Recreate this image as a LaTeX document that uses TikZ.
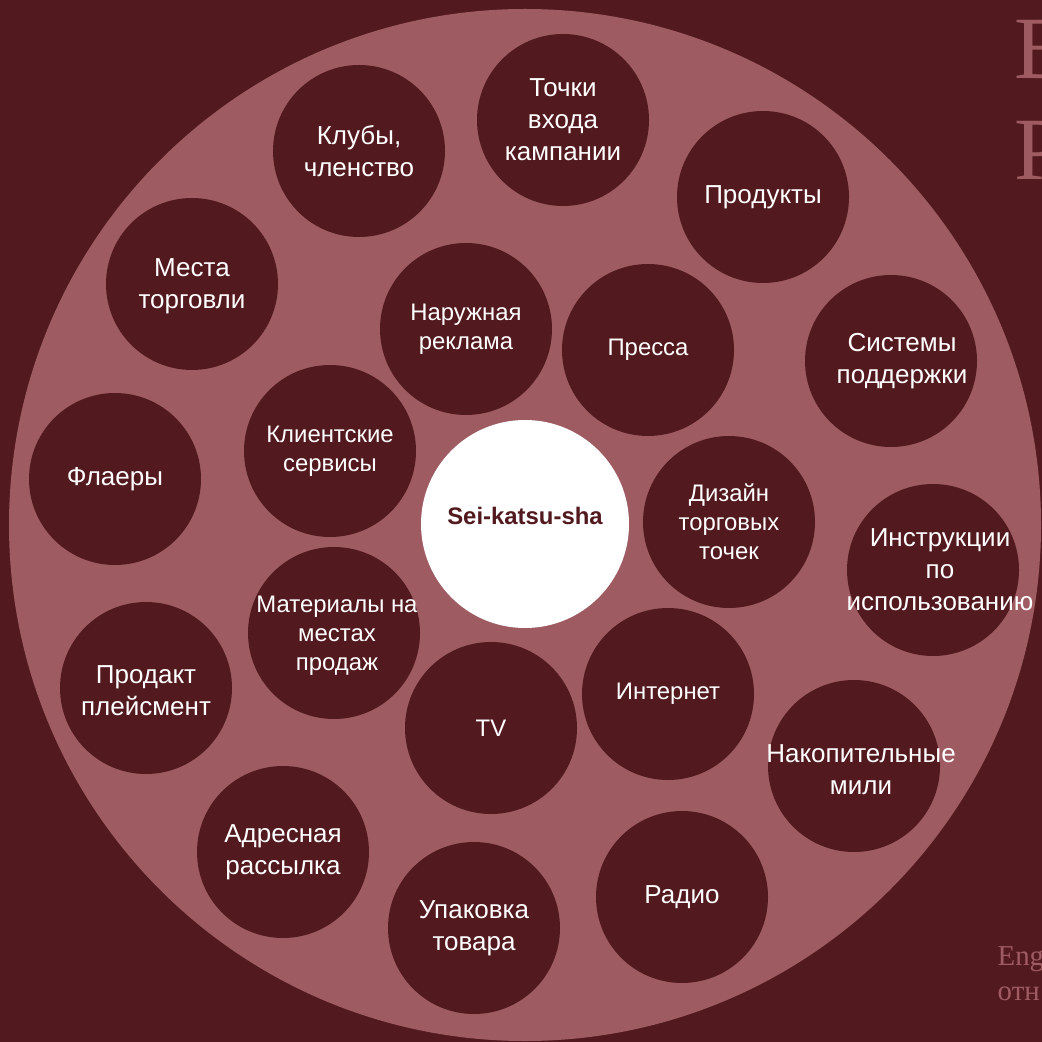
\documentclass[tikz,border=0pt]{standalone}
\usepackage{fontspec}
\setmainfont{Liberation Sans}
\newfontfamily\serifru{Liberation Serif}
\usetikzlibrary{positioning,calc}
\definecolor{skdark}{RGB}{82,26,31}
\definecolor{skrose}{RGB}{158,92,98}
\tikzstyle{bubble} = [circle, fill=skdark, minimum size=17.2mm, inner sep=0pt]
\tikzstyle{bubbletext} = [text=white, align=center, inner sep=0pt, font=\fontsize{7.4}{9.1}\selectfont]
\tikzstyle{smalltext} = [bubbletext, font=\fontsize{6.8}{8.2}\selectfont]
\tikzstyle{fadedtext} = [anchor=base west, inner sep=0pt, align=left, text=skrose]

\begin{document}
\begin{tikzpicture}[x=0.1mm, y=-0.1mm]
\clip (0,0) rectangle (1042,1042);
\fill[skdark] (0,0) rectangle (1042,1042);
\node[circle, fill=skrose, minimum size=103.2mm, inner sep=0pt] (ring) at (525,525) {};

% outer ring
\node[bubble, label={[bubbletext]center:{Клубы,\\членство}}] (clubs) at (359,151) {};
\node[bubble, label={[bubbletext]center:{Точки\\входа\\кампании}}] (entry) at (563,120) {};
\node[bubble, label={[bubbletext]center:Продукты}] (products) at (763,197) {};
\node[bubble, label={[bubbletext, yshift=-0.2mm]center:{Места\\торговли}}] (places) at (192,284) {};
\node[bubble, label={[bubbletext, xshift=1.1mm]center:{Системы\\поддержки}}] (support) at (891,361) {};
\node[bubble, label={[bubbletext]center:Флаеры}] (flyers) at (115,479) {};
\node[bubble, label={[bubbletext, xshift=0.7mm]center:{Инструкции\\по\\использованию}}] (manuals) at (933,570) {};
\node[bubble, label={[bubbletext, yshift=-0.3mm]center:{Продакт\\плейсмент}}] (placement) at (146,688) {};
\node[bubble, label={[bubbletext, xshift=0.7mm, yshift=-0.4mm]center:{Накопительные\\мили}}] (miles) at (854,766) {};
\node[bubble, label={[bubbletext]center:{Адресная\\рассылка}}] (mailing) at (283,852) {};
\node[bubble, label={[bubbletext]center:{Упаковка\\товара}}] (packing) at (474,928) {};
\node[bubble, label={[bubbletext]center:Радио}] (radio) at (682,897) {};

% inner ring
\node[bubble, label={[smalltext]center:{Наружная\\реклама}}] (outdoor) at (466,329) {};
\node[bubble, label={[smalltext]center:Пресса}] (press) at (648,350) {};
\node[bubble, label={[smalltext]center:{Клиентские\\сервисы}}] (service) at (330,451) {};
\node[bubble, label={[smalltext]center:{Дизайн\\торговых\\точек}}] (design) at (729,522) {};
\node[bubble, label={[smalltext, xshift=0.3mm, yshift=-0.3mm]center:{Материалы на\\местах\\продаж}}] (pos) at (334,633) {};
\node[bubble, label={[smalltext]center:Интернет}] (web) at (668,694) {};
\node[bubble, label={[smalltext]center:TV}] (tv) at (491,728) {};

\node[circle, fill=white, minimum size=20.8mm, inner sep=0pt,
  label={[text=skdark, yshift=0.8mm, font=\bfseries\fontsize{6.8}{8}\selectfont]center:Sei-katsu-sha}] (core) at (525,524) {};

% cut-off slide text (base = last line)
\node[fadedtext, font=\serifru\fontsize{25.3}{28.9}\selectfont] (title) at (1014,180) {В\\Р};
\node[fadedtext, font=\serifru\fontsize{8.2}{9.9}\selectfont] (note) at (997,1000) {Eng\\отн};
\end{tikzpicture}
\end{document}
